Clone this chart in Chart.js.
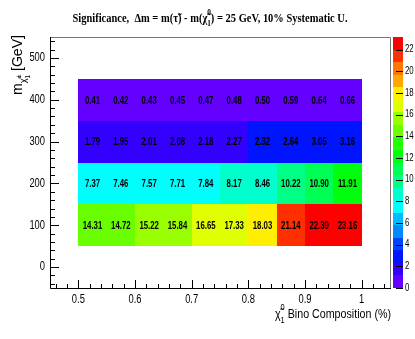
<!DOCTYPE html>
<html lang="en">
<head>
<meta charset="UTF-8">
<title>Significance map</title>
<script src="https://cdn.jsdelivr.net/npm/chart.js"></script>
<style>
    html, body { margin: 0; padding: 0; background: #fff; }
    #wrap { width: 415px; height: 339px; }
</style>
</head>
<body>
<div id="wrap"><canvas id="sigChart"></canvas></div>
<script>
// x bins: bino composition, lower edges (bin width 0.05)
const binoEdges = [0.5, 0.55, 0.6, 0.65, 0.7, 0.75, 0.8, 0.85, 0.9, 0.95];
const binoWidth = 0.05;
// y bins: chargino mass row centres (row height 100 GeV)
const massRows = [100, 200, 300, 400];
const massHeight = 100;

// significance per mass row
const sig100 = [14.31, 14.72, 15.22, 15.84, 16.65, 17.33, 18.03, 21.14, 22.39, 23.16];
const sig200 = [7.37, 7.46, 7.57, 7.71, 7.84, 8.17, 8.46, 10.22, 10.90, 11.91];
const sig300 = [1.79, 1.95, 2.01, 2.08, 2.18, 2.27, 2.32, 2.64, 3.05, 3.16];
const sig400 = [0.41, 0.42, 0.43, 0.45, 0.47, 0.48, 0.50, 0.59, 0.64, 0.66];
const sigRows = [sig100, sig200, sig300, sig400];

const xTicks = [0.5, 0.6, 0.7, 0.8, 0.9, 1];
const yTicks = [0, 100, 200, 300, 400, 500];
const zTicks = [0, 2, 4, 6, 8, 10, 12, 14, 16, 18, 20, 22];
const zMax = 23.16;
const nContours = 20;

const cells = [];
massRows.forEach((m, r) => {
    binoEdges.forEach((b, i) => {
        cells.push({ x: b + binoWidth / 2, y: m, v: sigRows[r][i] });
    });
});

// ROOT style "pretty" palette, 50 colours violet -> red
function paletteColor(level) {
    const idx = Math.floor((level + 0.99) * 50 / nContours);
    if (idx >= 49) return 'rgb(255,0,0)';
    const hue = 280 - (idx + 1) * 5.6;
    return `hsl(${hue},100%,50%)`;
}
function levelOf(v) {
    return Math.min(nContours - 1, Math.floor(v / zMax * nContours));
}

const SANS = '"Liberation Sans", Arial, sans-serif';
const SERIF = '"Liberation Serif", "Times New Roman", serif';
const NARROW_K = 0.78;   // squeeze factor to imitate helvetica narrow

function narrowText(ctx, text, x, y, size, align, weight) {
    ctx.save();
    ctx.font = `${weight || 'normal'} ${size}px ${SANS}`;
    const w = ctx.measureText(text).width * NARROW_K;
    let x0 = x;
    if (align === 'center') x0 = x - w / 2;
    else if (align === 'right') x0 = x - w;
    ctx.translate(x0, y);
    ctx.scale(NARROW_K, 1);
    ctx.textAlign = 'left';
    ctx.fillText(text, 0, 0);
    ctx.restore();
}

// draws text pieces with sub/superscripts
function drawRich(ctx, parts, x, y, family, size, weight, align, targetW) {
    const setF = s => { ctx.font = `${weight} ${s}px ${family}`; };
    const widths = parts.map(p => {
        setF(size * (p.s || 1));
        if (p.sup !== undefined) {
            return Math.max(ctx.measureText(p.sup).width, ctx.measureText(p.sub).width);
        }
        return ctx.measureText(p.t).width;
    });
    const total = widths.reduce((a, b) => a + b, 0);
    const k = targetW ? targetW / total : 1;
    let cx = align === 'right' ? x - total * k : (align === 'center' ? x - total * k / 2 : x);
    ctx.save();
    ctx.textAlign = 'left';
    ctx.textBaseline = 'alphabetic';
    ctx.fillStyle = '#000';
    parts.forEach((p, i) => {
        setF(size * (p.s || 1));
        ctx.save();
        ctx.translate(cx, y);
        ctx.scale(k, 1);
        if (p.sup !== undefined) {
            ctx.fillText(p.sup, 0, -size * p.up);
            ctx.fillText(p.sub, 0, size * p.down);
        } else {
            ctx.fillText(p.t, 0, size * (p.dy || 0));
        }
        ctx.restore();
        cx += widths[i] * k;
    });
    ctx.restore();
}

const rootFrame = {
    id: 'rootFrame',
    beforeDatasetsDraw(chart) {
        const ctx = chart.ctx;
        const xs = chart.scales.x, ys = chart.scales.y, zs = chart.scales.z;
        ctx.save();
        cells.forEach(c => {
            const x0 = Math.round(xs.getPixelForValue(c.x - binoWidth / 2));
            const x1 = Math.round(xs.getPixelForValue(c.x + binoWidth / 2));
            const y0 = Math.round(ys.getPixelForValue(c.y + massHeight / 2));
            const y1 = Math.round(ys.getPixelForValue(c.y - massHeight / 2));
            ctx.fillStyle = paletteColor(levelOf(c.v));
            ctx.fillRect(x0, y0, x1 - x0, y1 - y0);
        });
        // colour bar
        const bx = chart.chartArea.right + 3, bw = 10;
        for (let k = 0; k < nContours; k++) {
            const ya = Math.round(zs.getPixelForValue(k * zMax / nContours));
            const yb = Math.round(zs.getPixelForValue((k + 1) * zMax / nContours));
            ctx.fillStyle = paletteColor(k);
            ctx.fillRect(bx, yb, bw, ya - yb);
        }
        ctx.strokeStyle = '#000';
        ctx.lineWidth = 1;
        ctx.beginPath();
        zs.ticks.forEach(t => {
            const yy = Math.round(zs.getPixelForValue(t.value)) + 0.5;
            ctx.moveTo(bx + bw, yy);
            ctx.lineTo(bx + bw - 7, yy);
        });
        ctx.stroke();
        ctx.restore();
    },
    afterDraw(chart) {
        const ctx = chart.ctx;
        const xs = chart.scales.x, ys = chart.scales.y, zs = chart.scales.z;
        const a = chart.chartArea;
        ctx.save();
        ctx.fillStyle = '#000';
        ctx.textBaseline = 'middle';
        // cell values
        cells.forEach(c => {
            narrowText(ctx, c.v.toFixed(2), xs.getPixelForValue(c.x), ys.getPixelForValue(c.y) + 1, 10, 'center', 'bold');
        });
        // tick labels
        xs.ticks.forEach(t => narrowText(ctx, String(t.value), xs.getPixelForValue(t.value), a.bottom + 12, 12, 'center'));
        ys.ticks.forEach(t => narrowText(ctx, String(t.value), a.left - 5, ys.getPixelForValue(t.value), 12, 'right'));
        zs.ticks.forEach(t => narrowText(ctx, String(t.value), a.right + 15, zs.getPixelForValue(t.value), 10, 'left'));
        // frame
        ctx.lineWidth = 1;
        ctx.strokeStyle = '#777';
        ctx.beginPath();
        ctx.moveTo(a.left, a.top + 0.5);
        ctx.lineTo(a.right + 0.5, a.top + 0.5);
        ctx.lineTo(a.right + 0.5, a.bottom);
        ctx.stroke();
        ctx.strokeStyle = '#000';
        ctx.beginPath();
        ctx.moveTo(a.left + 0.5, a.top);
        ctx.lineTo(a.left + 0.5, a.bottom + 0.5);
        ctx.lineTo(a.right + 1, a.bottom + 0.5);
        // y ticks, pointing inward
        for (let v = -40; v <= 540; v += 20) {
            const yy = Math.round(ys.getPixelForValue(v)) + 0.5;
            ctx.moveTo(a.left, yy);
            ctx.lineTo(a.left + (v % 100 === 0 ? 9 : 5), yy);
        }
        // x ticks
        for (let i = 23; i <= 52; i++) {
            const v = i * 0.02;
            const xx = Math.round(xs.getPixelForValue(v)) + 0.5;
            ctx.moveTo(xx, a.bottom);
            ctx.lineTo(xx, a.bottom - (i % 5 === 0 ? 8 : 4));
        }
        ctx.stroke();
        ctx.restore();

        // title
        drawRich(ctx, [
            { t: 'Significance,  \u0394m = m(' },
            { t: '\u03C4\u0303' },
            { t: ') - m(' },
            { t: '\u03C7\u0303' },
            { sup: '0', sub: '1', s: 0.7, up: 0.55, down: 0.35 },
            { t: ') = 25 GeV, 10% Systematic U.' }
        ], 210, 22, SERIF, 12, 'bold', 'center', 275);

        // x title
        drawRich(ctx, [
            { t: '\u03C7\u0303' },
            { sup: '0', sub: '1', s: 0.7, up: 0.6, down: 0.35 },
            { t: ' Bino Composition (%)' }
        ], a.right + 1, 318, SANS, 13, 'normal', 'right', 116);

        // y title, rotated
        ctx.save();
        ctx.translate(22, a.top - 2);
        ctx.rotate(-Math.PI / 2);
        drawRich(ctx, [
            { t: 'm' },
            { t: '\u03C7\u0303', s: 0.65, dy: 0.3 },
            { sup: '\u00B1', sub: '1', s: 0.45, up: 0.05, down: 0.55 },
            { t: ' [GeV]' }
        ], 0, 0, SANS, 14, 'normal', 'right', 60);
        ctx.restore();
    }
};

new Chart(document.getElementById('sigChart'), {
    type: 'scatter',
    data: {
        datasets: [{
            data: cells,
            pointRadius: 0,
            pointHoverRadius: 0
        }]
    },
    options: {
        responsive: true,
        maintainAspectRatio: false,
        animation: false,
        events: [],
        layout: { padding: { top: 37, left: 0, right: 0, bottom: 0 } },
        plugins: {
            legend: { display: false },
            tooltip: { enabled: false },
            title: { display: false }
        },
        scales: {
            x: {
                type: 'linear',
                position: 'bottom',
                min: 0.45,
                max: 1.05,
                afterBuildTicks: s => { s.ticks = xTicks.map(v => ({ value: v })); },
                afterFit: s => { s.height = 51; },
                grid: { display: false, drawTicks: false },
                border: { display: false },
                ticks: { display: false }
            },
            y: {
                type: 'linear',
                position: 'left',
                min: -50,
                max: 550,
                afterBuildTicks: s => { s.ticks = yTicks.map(v => ({ value: v })); },
                afterFit: s => { s.width = 50; },
                grid: { display: false, drawTicks: false },
                border: { display: false },
                ticks: { display: false }
            },
            z: {
                type: 'linear',
                position: 'right',
                min: 0,
                max: zMax,
                afterBuildTicks: s => { s.ticks = zTicks.map(v => ({ value: v })); },
                afterFit: s => { s.width = 25; },
                grid: { display: false, drawTicks: false },
                border: { display: false },
                ticks: { display: false }
            }
        }
    },
    plugins: [rootFrame]
});
</script>
</body>
</html>
